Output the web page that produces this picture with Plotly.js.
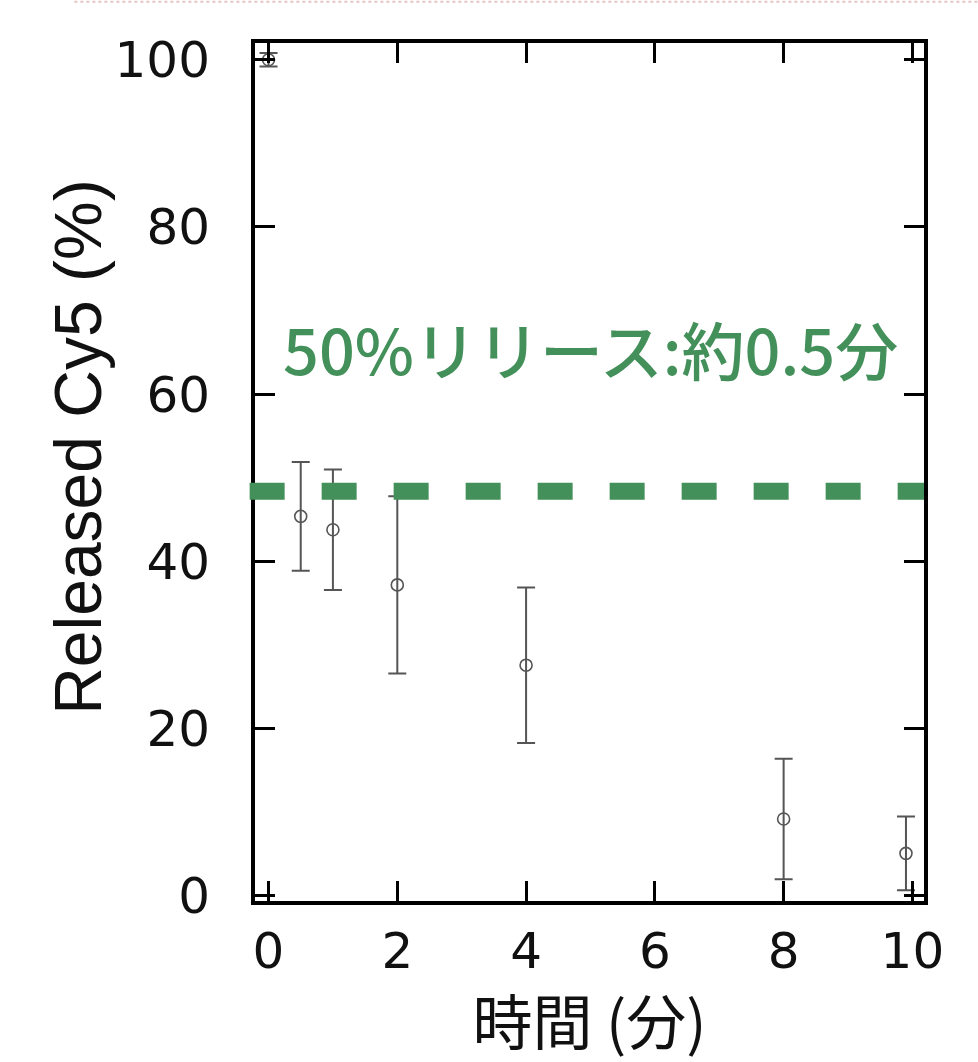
<!DOCTYPE html>
<html>
<head>
<meta charset="utf-8">
<script src="https://cdn.plot.ly/plotly-3.0.1.min.js"></script>
<style>html,body{margin:0;padding:0;background:#fff;}#chart{width:978px;height:1062px;}</style>
</head>
<body>
<div id="chart"></div>
<script>
// Data
const timeMin = [0, 0.5, 1, 2, 4, 8, 9.9];
const releasedPct = [100, 45.4, 43.8, 37.2, 27.6, 9.2, 5.1];
const errPct = [0.8, 6.5, 7.2, 10.6, 9.3, 7.2, 4.4];
const halfLevel = 48.4;
const xTicks = [0, 2, 4, 6, 8, 10];
const yTicks = [0, 20, 40, 60, 80, 100];
const noteText = '50%リリース:約0.5分';
const xTitle = '時間 (分)';
const yTitle = 'Released Cy5 (%)';

const traces = [{
  type: 'scatter',
  mode: 'markers',
  x: timeMin,
  y: releasedPct,
  marker: {symbol: 'circle-open', size: 12, color: '#555', line: {width: 1.6, color: '#555'}},
  error_y: {type: 'data', array: errPct, visible: true, color: '#555', thickness: 2, width: 9},
  cliponaxis: false,
  showlegend: false,
  hoverinfo: 'x+y'
}];

const axisCommon = {
  showline: true, linewidth: 4, linecolor: '#000', mirror: 'ticks',
  ticks: 'inside', ticklen: 20, tickwidth: 3, tickcolor: '#000',
  showgrid: false, zeroline: false, automargin: false,
  tickfont: {family: 'DejaVu Sans', size: 50, color: '#111'}
};

const layout = {
  width: 978, height: 1062,
  margin: {l: 255, r: 54, t: 43, b: 161},
  paper_bgcolor: '#fff', plot_bgcolor: '#fff',
  xaxis: Object.assign({}, axisCommon, {
    range: [-0.21, 10.18], tickvals: xTicks, ticktext: xTicks.map(String),
    ticklabelstandoff: 3,
    title: {text: xTitle, font: {family: 'Noto Sans CJK JP', size: 60, color: '#111'}, standoff: 22}
  }),
  yaxis: Object.assign({}, axisCommon, {
    range: [-0.6, 102], tickvals: yTicks, ticktext: yTicks.map(String),
    ticklabelstandoff: 31
  }),
  shapes: [
    {type: 'line', xref: 'paper', yref: 'y', x0: -0.008, x1: 1.0, y0: halfLevel, y1: halfLevel,
     line: {color: '#43905A', width: 17, dash: '35px,37px'}, layer: 'above'},
    {type: 'line', xref: 'paper', yref: 'paper', x0: -0.27, x1: 1.09, y0: 1.048, y1: 1.048,
     line: {color: '#e6c4c4', width: 2, dash: 'dot'}, layer: 'above'}
  ],
  annotations: [
    {
      text: noteText, xref: 'paper', yref: 'y', x: 0.502, y: 65.6,
      xanchor: 'center', yanchor: 'middle', showarrow: false,
      font: {family: 'Noto Sans CJK JP', size: 63, color: '#43905A', weight: 500}
    },
    {
      text: yTitle, xref: 'paper', yref: 'paper', x: -0.265, y: 0.529,
      xanchor: 'center', yanchor: 'middle', textangle: -90, showarrow: false,
      font: {family: 'Liberation Sans', size: 66, color: '#111'}
    }
  ]
};

Plotly.newPlot('chart', traces, layout, {displayModeBar: false, staticPlot: true});
</script>
</body>
</html>
